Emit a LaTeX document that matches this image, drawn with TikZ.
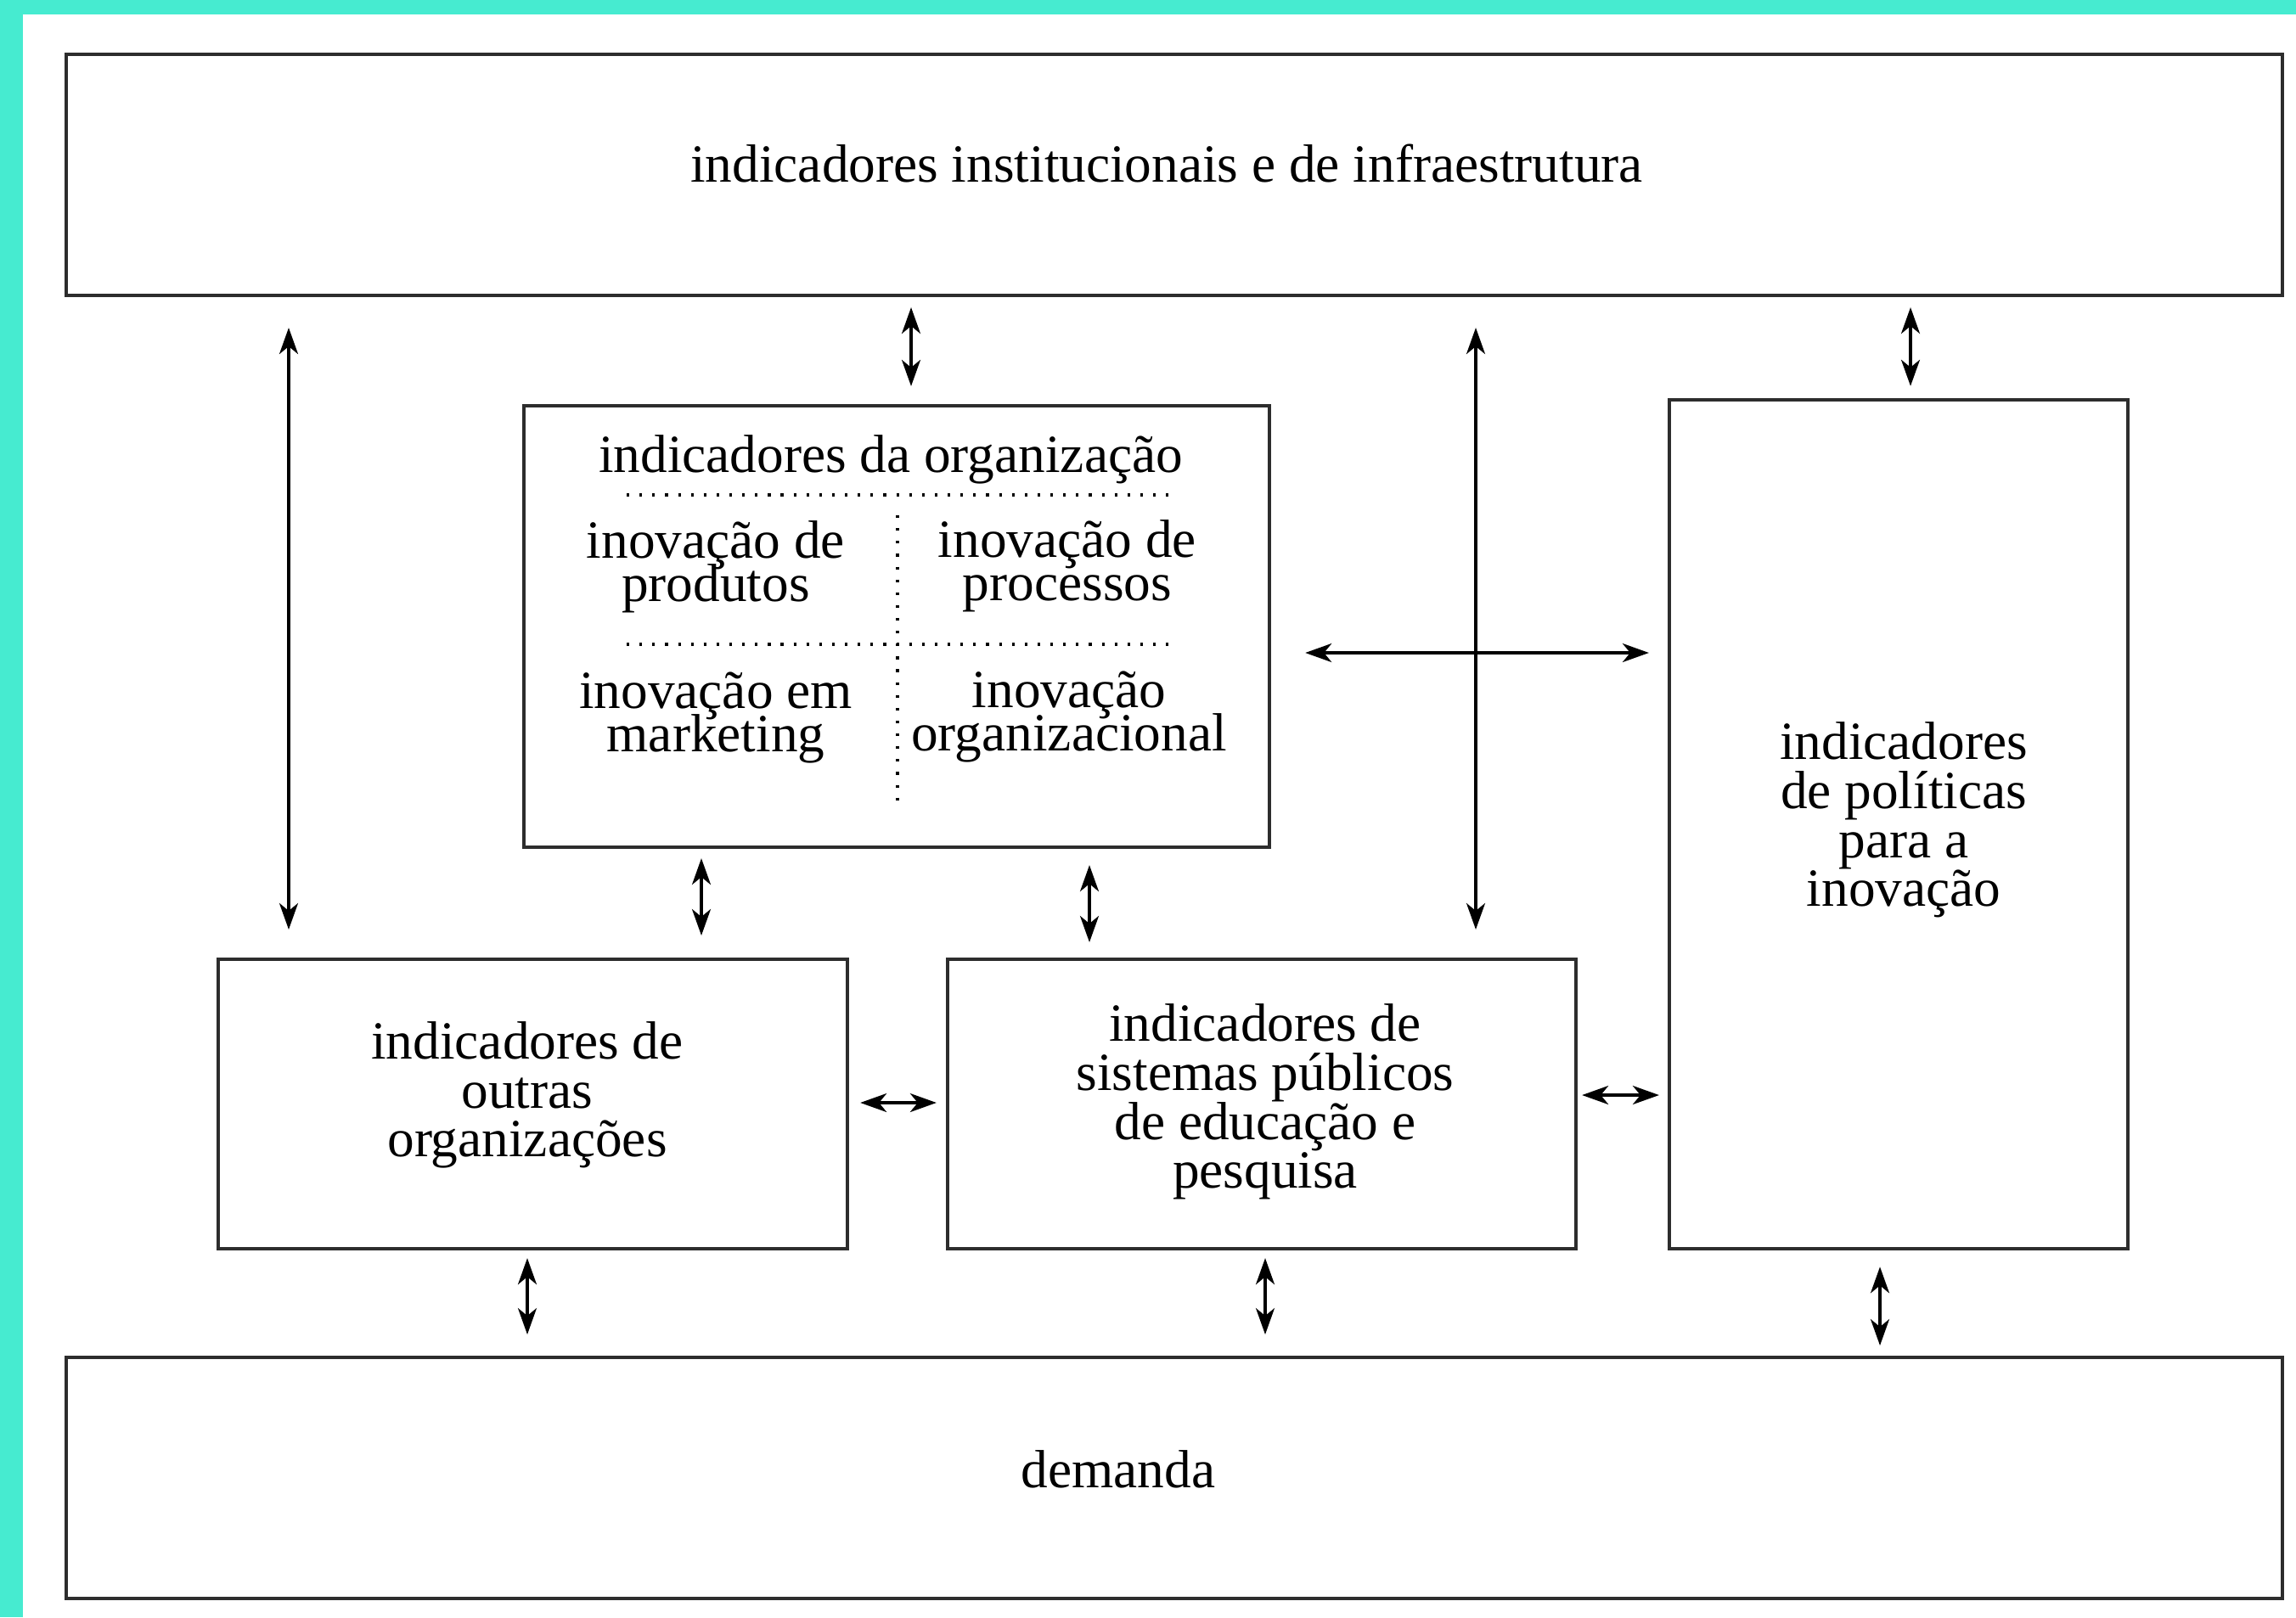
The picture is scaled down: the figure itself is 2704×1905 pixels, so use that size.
\documentclass[tikz,border=0pt]{standalone}
\usepackage{fontspec}
\setmainfont{Liberation Serif}
\usetikzlibrary{arrows.meta,calc}
\definecolor{turq}{RGB}{70,235,208}
\definecolor{boxline}{RGB}{45,45,45}
\newcommand\mylblfont{\fontsize{18}{16.4}\selectfont\lineskiplimit=-20pt\relax}
\newcommand\myqfont{\fontsize{18}{14.5}\selectfont\lineskiplimit=-20pt\relax}
\begin{document}
\begin{tikzpicture}[x=0.01cm,y=-0.01cm,
  box/.style={draw=boxline,line width=1.1pt,rectangle,inner sep=0pt},
  lbl/.style={align=center,inner sep=0pt,font=\mylblfont},
  qlbl/.style={align=center,inner sep=0pt,font=\myqfont},
  dbl/.style={{Stealth[length=3.1mm,width=2.2mm,inset=0.9mm]}-{Stealth[length=3.1mm,width=2.2mm,inset=0.9mm]},line width=0.9pt},
  dots/.style={line width=1pt,dash pattern=on 0.9pt off 3.4pt}]
\useasboundingbox (0,0) rectangle (2704,1905);
\fill[white] (0,0) rectangle (2704,1905);
\fill[turq] (0,0) rectangle (2704,17);
\fill[turq] (0,0) rectangle (27,1905);

% boxes
\node[box,minimum width=26.08cm,minimum height=2.84cm] (top) at (1383,206) {};
\node[box,minimum width=8.78cm,minimum height=5.20cm] (org) at (1056,738) {};
\node[box,minimum width=7.41cm,minimum height=3.41cm] (outras) at (627.5,1300.5) {};
\node[box,minimum width=7.40cm,minimum height=3.41cm] (sis) at (1486,1300.5) {};
\node[box,minimum width=5.40cm,minimum height=10.00cm] (pol) at (2236,971) {};
\node[box,minimum width=26.08cm,minimum height=2.84cm] (dem) at (1383,1741) {};

% labels
\node[lbl] (toplbl) at (1374,193) {indicadores institucionais e de infraestrutura};
\node[lbl] (orglbl) at (1049,541) {indicadores da organização};
\node[qlbl] (q1) at (843,668) {inovação de\\produtos};
\node[qlbl] (q2) at (1257,667) {inovação de\\processos};
\node[qlbl] (q3) at (843,845) {inovação em\\marketing};
\node[qlbl] (q4) at (1259,844) {inovação\\organizacional};
\node[lbl] (outlbl) at (621,1290) {indicadores de\\outras\\organizações};
\node[lbl] (sislbl) at (1490,1298) {indicadores de\\sistemas públicos\\de educação e\\pesquisa};
\node[lbl] (pollbl) at (2242,966) {indicadores\\de políticas\\para a\\inovação};
\node[lbl] (demlbl) at (1317,1731) {demanda};

% dotted separators
\coordinate (dl1) at (738,583);
\coordinate (dr1) at (1380,583);
\coordinate (dl2) at (738,759);
\coordinate (dr2) at (1380,759);
\coordinate (vt) at (1057,607);
\coordinate (vb) at (1057,948);
\draw[dots] (dl1) -- (dr1);
\draw[dots] (dl2) -- (dr2);
\draw[dots] (vt) -- (vb);

% x / y positions of connectors
\coordinate (a1) at (340,0);
\coordinate (a2) at (1073,0);
\coordinate (a3) at (1738,0);
\coordinate (a4) at (2250,0);
\coordinate (a6) at (826,0);
\coordinate (a7) at (1283,0);
\coordinate (a10) at (621,0);
\coordinate (a11) at (1490,0);
\coordinate (a12) at (2214,0);
\coordinate (h5) at (0,769);
\coordinate (h8) at (0,1299);
\coordinate (h9) at (0,1290);

% connectors
\draw[dbl,shorten <=0.36cm,shorten >=0.33cm] (top.south -| a1) -- (outras.north -| a1);
\draw[dbl,shorten <=0.12cm,shorten >=0.21cm] (top.south -| a2) -- (org.north -| a2);
\draw[dbl,shorten <=0.36cm,shorten >=0.33cm] (top.south -| a3) -- (sis.north -| a3);
\draw[dbl,shorten <=0.12cm,shorten >=0.14cm] (top.south -| a4) -- (pol.north -| a4);
\draw[dbl,shorten <=0.40cm,shorten >=0.22cm] (org.east |- h5) -- (pol.west |- h5);
\draw[dbl,shorten <=0.11cm,shorten >=0.26cm] (org.south -| a6) -- (outras.north -| a6);
\draw[dbl,shorten <=0.19cm,shorten >=0.18cm] (org.south -| a7) -- (sis.north -| a7);
\draw[dbl,shorten <=0.13cm,shorten >=0.11cm] (outras.east |- h8) -- (sis.west |- h8);
\draw[dbl,shorten <=0.05cm,shorten >=0.10cm] (sis.east |- h9) -- (pol.west |- h9);
\draw[dbl,shorten <=0.09cm,shorten >=0.25cm] (outras.south -| a10) -- (dem.north -| a10);
\draw[dbl,shorten <=0.09cm,shorten >=0.25cm] (sis.south -| a11) -- (dem.north -| a11);
\draw[dbl,shorten <=0.19cm,shorten >=0.12cm] (pol.south -| a12) -- (dem.north -| a12);
\end{tikzpicture}
\end{document}
